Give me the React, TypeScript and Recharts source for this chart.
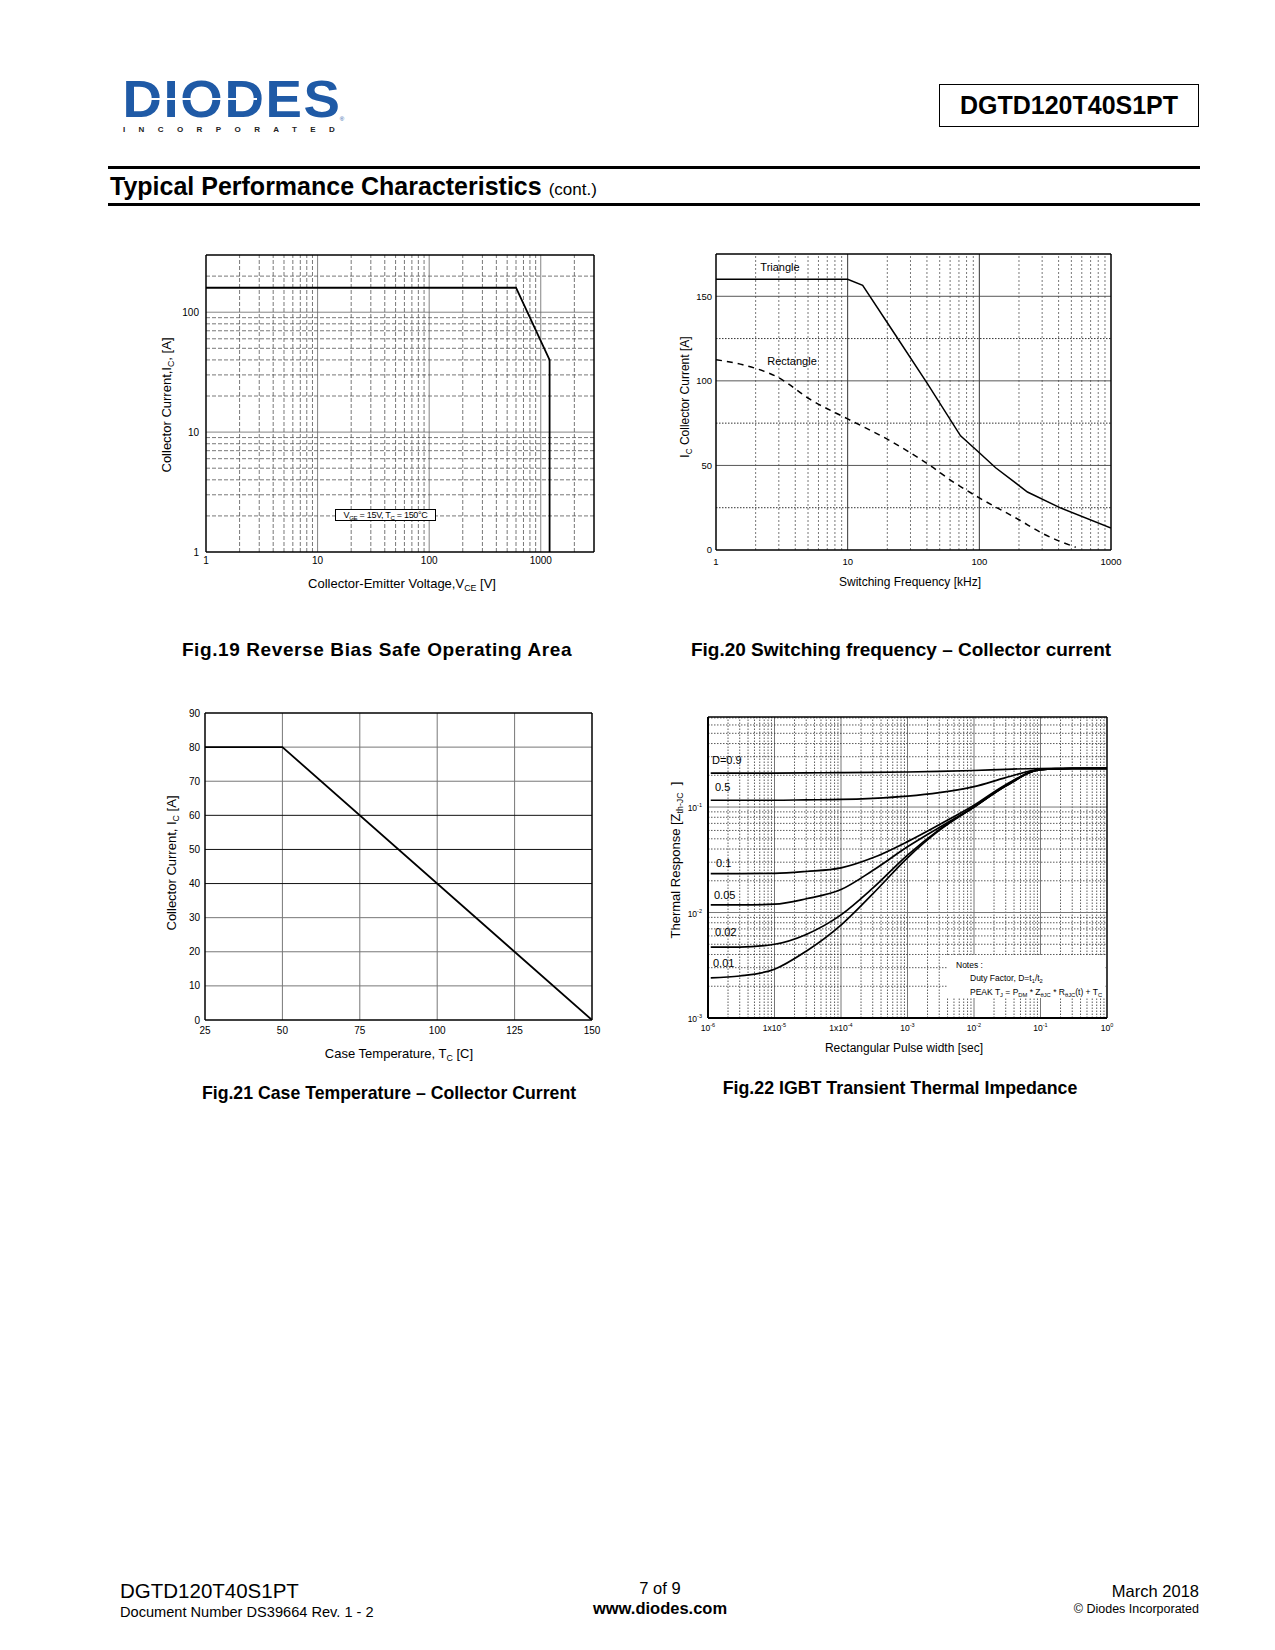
import React from 'react';
import { LineChart, Line, XAxis, YAxis, ReferenceLine } from 'recharts';

const FONT = "'Liberation Sans', Arial, Helvetica, sans-serif";

// ---------- Fig.19 Reverse Bias Safe Operating Area ----------
const soaVoltage = [1, 600, 1200, 1200];
const soaCurrent = [160, 160, 40, 1];
const soaXTicks = [1, 10, 100, 1000];
const soaYTicks = [1, 10, 100];

// ---------- Fig.20 Switching frequency - Collector current ----------
const triFreq = [1, 10, 13, 22.4, 40, 72, 100, 133, 232, 416, 1000];
const triCurrent = [160, 160, 156.5, 128.6, 98.8, 67.5, 57.5, 48.6, 34.3, 24.8, 13];
const rectFreq = [1, 1.6, 3, 5.2, 10, 20, 40, 64, 100, 200, 300, 540];
const rectCurrent = [112.5, 109.5, 101.8, 89, 77.5, 65.5, 51.2, 40, 30.8, 17.9, 9.9, 1.6];
const swXTicks = [1, 10, 100, 1000];
const swYTicks = [0, 50, 100, 150];
const swGridY = [25, 50, 75, 100, 125, 150];

// ---------- Fig.21 Case Temperature - Collector Current ----------
const caseTemp = [25, 50, 150];
const caseCurrent = [80, 80, 0];
const caseXTicks = [25, 50, 75, 100, 125, 150];
const caseYTicks = [0, 10, 20, 30, 40, 50, 60, 70, 80, 90];

// ---------- Fig.22 IGBT Transient Thermal Impedance ----------
const pulseWidth = [1.1e-6, 3e-6, 1e-5, 3e-5, 1e-4, 3e-4, 1e-3, 3e-3, 1e-2, 3e-2, 1e-1, 3e-1, 1];
const zthD09 = [0.21, 0.21, 0.21, 0.211, 0.212, 0.213, 0.215, 0.218, 0.222, 0.228, 0.232, 0.233, 0.233];
const zthD05 = [0.116, 0.116, 0.116, 0.117, 0.118, 0.121, 0.127, 0.137, 0.156, 0.19, 0.228, 0.233, 0.233];
const zthD01 = [0.0234, 0.0234, 0.0235, 0.0245, 0.0265, 0.033, 0.047, 0.068, 0.104, 0.163, 0.226, 0.232, 0.233];
const zthD005 = [0.0118, 0.0118, 0.012, 0.0135, 0.0165, 0.025, 0.042, 0.064, 0.1, 0.16, 0.226, 0.232, 0.233];
const zthD002 = [0.0047, 0.0047, 0.005, 0.0062, 0.0095, 0.017, 0.035, 0.061, 0.1, 0.158, 0.226, 0.232, 0.233];
const zthD001 = [0.0024, 0.0025, 0.0029, 0.0043, 0.0076, 0.015, 0.033, 0.06, 0.1, 0.158, 0.226, 0.232, 0.233];
const dutyLabels = ['D=0.9', '0.5', '0.1', '0.05', '0.02', '0.01'];
const pulseTicks = [1e-6, 1e-5, 1e-4, 1e-3, 1e-2, 1e-1, 1];
const pulseTickBase = ['10', '1x10', '1x10', '10', '10', '10', '10'];
const pulseTickExp = ['-6', '-5', '-4', '-3', '-2', '-1', '0'];
const zthTicks = [1e-3, 1e-2, 1e-1];
const zthTickExp = ['-3', '-2', '-1'];

// ---------- helpers ----------
const zip = (xs: number[], ys: number[]) => xs.map((x, i) => ({ x, y: ys[i] }));

function logGrid(lo: number, hi: number): number[] {
  const out: number[] = [];
  for (let e = Math.floor(Math.log10(lo)) - 1; e <= Math.ceil(Math.log10(hi)); e++) {
    for (let k = 1; k <= 9; k++) {
      const v = k * Math.pow(10, e);
      if (v > lo * 1.0001 && v < hi * 0.9999) out.push(v);
    }
  }
  return out;
}
const isDecade = (v: number) => Math.abs(Math.log10(v) - Math.round(Math.log10(v))) < 1e-6;

type Box = { l: number; t: number; r: number; b: number };
const PAD = { l: 50, t: 12, r: 16, b: 30 };

function Frame({ box, children }: { box: Box; children: React.ReactNode }) {
  return (
    <div style={{ position: 'absolute', left: box.l - PAD.l, top: box.t - PAD.t }}>
      <LineChart
        width={box.r - box.l + PAD.l + PAD.r}
        height={box.b - box.t + PAD.t + PAD.b}
        margin={{ top: PAD.t, right: PAD.r, left: 0, bottom: 0 }}
      >
        {children}
      </LineChart>
    </div>
  );
}

const tickStyle = (size: number) => ({ fontSize: size, fill: '#000', fontFamily: FONT });
const axisLine = { stroke: '#000', strokeWidth: 1.5 };

function Txt({ x, y, a = 'start', s = 13, w = 400, rot = false, c = '#000', children, style }: any) {
  const tx = a === 'middle' ? '-50%' : a === 'end' ? '-100%' : '0';
  const transform = rot ? 'translate(-50%,-50%) rotate(-90deg)' : `translate(${tx},-50%)`;
  return (
    <div
      style={{
        position: 'absolute', left: x, top: y, transform, fontSize: s, fontWeight: w,
        fontFamily: FONT, color: c, whiteSpace: 'nowrap', lineHeight: 1, ...style,
      }}
    >
      {children}
    </div>
  );
}
const Sub = ({ children }: any) => (
  <span style={{ fontSize: '0.68em', position: 'relative', top: '0.35em' }}>{children}</span>
);

// ---------- Fig.19 ----------
const B19: Box = { l: 206, t: 255, r: 594, b: 552 };
function Fig19() {
  const data = zip(soaVoltage, soaCurrent);
  return (
    <Frame box={B19}>
      <XAxis dataKey="x" type="number" scale="log" domain={[1, 3000]} ticks={soaXTicks} interval={0}
        allowDataOverflow height={PAD.b} tickLine={false} tickSize={3} tickMargin={2}
        axisLine={axisLine} tick={tickStyle(10)} />
      <YAxis type="number" scale="log" domain={[1, 300]} ticks={soaYTicks} interval={0}
        allowDataOverflow width={PAD.l} tickLine={false} tickSize={5} tickMargin={2}
        axisLine={axisLine} tick={tickStyle(10)} />
      {logGrid(1, 3000).map((v) => (
        <ReferenceLine key={'v' + v} x={v} stroke={isDecade(v) ? '#666' : '#555'}
          strokeDasharray={isDecade(v) ? undefined : '4 2'} strokeWidth={0.8} />
      ))}
      {logGrid(1, 300).map((v) => (
        <ReferenceLine key={'h' + v} y={v} stroke={isDecade(v) ? '#666' : '#555'}
          strokeDasharray={isDecade(v) ? undefined : '4 2'} strokeWidth={0.8} />
      ))}
      <ReferenceLine x={3000} stroke="#000" strokeWidth={1.5} />
      <ReferenceLine y={300} stroke="#000" strokeWidth={1.5} />
      <Line data={data} dataKey="y" type="linear" stroke="#000" strokeWidth={1.8} dot={false}
        isAnimationActive={false} />
    </Frame>
  );
}

// ---------- Fig.20 ----------
const B20: Box = { l: 716, t: 254, r: 1111, b: 550 };
function Fig20() {
  return (
    <Frame box={B20}>
      <XAxis dataKey="x" type="number" scale="log" domain={[1, 1000]} ticks={swXTicks} interval={0}
        allowDataOverflow height={PAD.b} tickLine={false} tickSize={6} tickMargin={2}
        axisLine={axisLine} tick={tickStyle(9.5)} />
      <YAxis type="number" domain={[0, 175]} ticks={swYTicks} interval={0}
        allowDataOverflow width={PAD.l} tickLine={false} tickSize={2} tickMargin={2}
        axisLine={axisLine} tick={tickStyle(9.5)} />
      {logGrid(1, 1000).map((v) => (
        <ReferenceLine key={'v' + v} x={v} stroke={isDecade(v) ? '#333' : '#555'}
          strokeDasharray={isDecade(v) ? undefined : '2 2'} strokeWidth={isDecade(v) ? 1 : 0.8} />
      ))}
      {swGridY.map((v) => (
        <ReferenceLine key={'h' + v} y={v} stroke={v % 50 === 0 ? '#444' : '#333'}
          strokeDasharray={v % 50 === 0 ? undefined : '1.5 1.5'} strokeWidth={v % 50 === 0 ? 0.9 : 1} />
      ))}
      <ReferenceLine x={1000} stroke="#000" strokeWidth={1.5} />
      <ReferenceLine y={175} stroke="#000" strokeWidth={1.5} />
      <Line data={zip(triFreq, triCurrent)} dataKey="y" type="linear" stroke="#000" strokeWidth={1.5}
        dot={false} isAnimationActive={false} />
      <Line data={zip(rectFreq, rectCurrent)} dataKey="y" type="monotone" stroke="#000" strokeWidth={1.5}
        strokeDasharray="6 5" dot={false} isAnimationActive={false} />
    </Frame>
  );
}

// ---------- Fig.21 ----------
const B21: Box = { l: 205, t: 713, r: 592, b: 1020 };
function Fig21() {
  return (
    <Frame box={B21}>
      <XAxis dataKey="x" type="number" domain={[25, 150]} ticks={caseXTicks} interval={0}
        allowDataOverflow height={PAD.b} tickLine={false} tickSize={5} tickMargin={2}
        axisLine={axisLine} tick={tickStyle(10)} />
      <YAxis type="number" domain={[0, 90]} ticks={caseYTicks} interval={0}
        allowDataOverflow width={PAD.l} tickLine={false} tickSize={3} tickMargin={2}
        axisLine={axisLine} tick={tickStyle(10)} />
      {caseXTicks.slice(1, -1).map((v) => (
        <ReferenceLine key={'v' + v} x={v} stroke="#777" strokeWidth={1} />
      ))}
      {caseYTicks.slice(1, -1).map((v) => (
        <ReferenceLine key={'h' + v} y={v} stroke={v >= 40 && v <= 60 ? '#111' : '#777'} strokeWidth={1} />
      ))}
      <ReferenceLine x={150} stroke="#000" strokeWidth={1.5} />
      <ReferenceLine y={90} stroke="#000" strokeWidth={1.5} />
      <Line data={zip(caseTemp, caseCurrent)} dataKey="y" type="linear" stroke="#000" strokeWidth={1.8}
        dot={false} isAnimationActive={false} />
    </Frame>
  );
}

// ---------- Fig.22 ----------
const B22: Box = { l: 708, t: 717, r: 1107, b: 1018 };
const findIdx = (arr: number[], v: number) => arr.findIndex((a) => Math.abs(Math.log10(a) - Math.log10(v)) < 1e-6);

function PulseTick(props: any) {
  const { x, y, payload } = props;
  const i = findIdx(pulseTicks, payload.value);
  if (i < 0) return null;
  return (
    <text x={x} y={y + 8} textAnchor="middle" fontSize={8.5} fontFamily={FONT} fill="#000">
      {pulseTickBase[i]}
      <tspan dy={-4} fontSize={5.5}>{pulseTickExp[i]}</tspan>
    </text>
  );
}
function ZthTick(props: any) {
  const { x, y, payload } = props;
  const i = findIdx(zthTicks, payload.value);
  if (i < 0) return null;
  return (
    <text x={x} y={y + 4} textAnchor="end" fontSize={8.5} fontFamily={FONT} fill="#000">
      10
      <tspan dy={-4} fontSize={5.5}>{zthTickExp[i]}</tspan>
    </text>
  );
}

function Fig22() {
  const series = [zthD09, zthD05, zthD01, zthD005, zthD002, zthD001];
  return (
    <Frame box={B22}>
      <XAxis dataKey="x" type="number" scale="log" domain={[1e-6, 1]} ticks={pulseTicks} interval={0}
        allowDataOverflow height={PAD.b} tickLine={false} tickSize={3} tickMargin={2}
        axisLine={{ stroke: '#000', strokeWidth: 2 }} tick={<PulseTick />} />
      <YAxis type="number" scale="log" domain={[1e-3, 0.714]} ticks={zthTicks} interval={0}
        allowDataOverflow width={PAD.l} tickLine={false} tickSize={4} tickMargin={2}
        axisLine={{ stroke: '#000', strokeWidth: 2 }} tick={<ZthTick />} />
      {logGrid(1e-6, 1).map((v) => (
        <ReferenceLine key={'v' + v} x={v} stroke={isDecade(v) ? '#777' : '#333'}
          strokeDasharray={isDecade(v) ? undefined : '1.5 1.5'} strokeWidth={isDecade(v) ? 1 : 0.8} />
      ))}
      {logGrid(1e-3, 0.714).map((v) => (
        <ReferenceLine key={'h' + v} y={v} stroke={isDecade(v) ? '#777' : '#333'}
          strokeDasharray={isDecade(v) ? undefined : '1.5 1.5'} strokeWidth={isDecade(v) ? 1 : 0.8} />
      ))}
      <ReferenceLine x={1} stroke="#000" strokeWidth={1.5} />
      <ReferenceLine y={0.714} stroke="#000" strokeWidth={1.5} />
      {series.map((z, i) => (
        <Line key={dutyLabels[i]} data={zip(pulseWidth, z)} dataKey="y" type="monotone" stroke="#000"
          strokeWidth={1.7} dot={false} isAnimationActive={false} />
      ))}
    </Frame>
  );
}

// ---------- page ----------
export default function App() {
  return (
    <div style={{ position: 'absolute', left: 0, top: 0, width: 1275, height: 1650, background: '#fff', fontFamily: FONT, overflow: 'hidden' }}>
      {/* Logo */}
      <Txt x={232} y={99} a="middle" s={52} w={900} c="#1f5aa6" style={{ letterSpacing: 1.5, transform: 'translate(-50%,-50%) scaleX(1.05)' }}>DIODES</Txt>
      <div style={{ position: 'absolute', left: 135, top: 98, width: 122, height: 2, background: '#fff' }} />
      <Txt x={342} y={119} a="middle" s={6} c="#1f5aa6">®</Txt>
      <Txt x={123} y={130} s={8} w={700} c="#222" style={{ letterSpacing: 13.4 }}>INCORPORATED</Txt>

      {/* Part number box */}
      <div style={{ position: 'absolute', left: 939, top: 84, width: 260, height: 43, border: '1.5px solid #000', boxSizing: 'border-box', display: 'flex', alignItems: 'center', justifyContent: 'center', fontSize: 25, fontWeight: 700, fontFamily: FONT }}>
        DGTD120T40S1PT
      </div>

      {/* Section title */}
      <div style={{ position: 'absolute', left: 108, top: 166, width: 1092, height: 3, background: '#000' }} />
      <Txt x={110} y={186} s={25} w={700}>
        Typical Performance Characteristics <span style={{ fontSize: 17, fontWeight: 400 }}>(cont.)</span>
      </Txt>
      <div style={{ position: 'absolute', left: 108, top: 203, width: 1092, height: 3, background: '#000' }} />

      {/* Charts */}
      <Fig19 />
      <Fig20 />
      <Fig21 />
      <Fig22 />

      {/* Fig.19 texts */}
      <Txt x={166} y={405} rot s={13}>Collector Current,I<Sub>C</Sub>, [A]</Txt>
      <Txt x={402} y={583} a="middle" s={13}>Collector-Emitter Voltage,V<Sub>CE</Sub> [V]</Txt>
      <div style={{ position: 'absolute', left: 335, top: 509, width: 101, height: 12, border: '1px solid #000', boxSizing: 'border-box', background: '#fff', fontSize: 9, lineHeight: '10px', textAlign: 'center', whiteSpace: 'nowrap', fontFamily: FONT, letterSpacing: -0.3 }}>
        V<Sub>GE</Sub> = 15V, T<Sub>C</Sub> = 150°C
      </div>
      <Txt x={377} y={649} a="middle" s={19} w={700} style={{ letterSpacing: 0.6 }}>Fig.19 Reverse Bias Safe Operating Area</Txt>

      {/* Fig.20 texts */}
      <Txt x={685} y={397} rot s={12}>I<Sub>C</Sub> Collector Current [A]</Txt>
      <Txt x={910} y={582} a="middle" s={12}>Switching Frequency [kHz]</Txt>
      <Txt x={780} y={267} a="middle" s={11}>Triangle</Txt>
      <Txt x={792} y={361} a="middle" s={11}>Rectangle</Txt>
      <Txt x={901} y={649} a="middle" s={19} w={700}>Fig.20 Switching frequency – Collector current</Txt>

      {/* Fig.21 texts */}
      <Txt x={171} y={863} rot s={13}>Collector Current, I<Sub>C</Sub> [A]</Txt>
      <Txt x={399} y={1053} a="middle" s={13}>Case Temperature, T<Sub>C</Sub> [C]</Txt>
      <Txt x={389} y={1094} a="middle" s={17.7} w={700}>Fig.21 Case Temperature – Collector Current</Txt>

      {/* Fig.22 texts */}
      <Txt x={675} y={860} rot s={13}>Thermal Response [Z<Sub>th-JC</Sub>&nbsp;&nbsp;]</Txt>
      <Txt x={904} y={1048} a="middle" s={12}>Rectangular Pulse width [sec]</Txt>
      <Txt x={712} y={760} s={11}>{dutyLabels[0]}</Txt>
      <Txt x={715} y={787} s={11}>{dutyLabels[1]}</Txt>
      <Txt x={716} y={863} s={11}>{dutyLabels[2]}</Txt>
      <Txt x={714} y={895} s={11}>{dutyLabels[3]}</Txt>
      <Txt x={715} y={932} s={11}>{dutyLabels[4]}</Txt>
      <Txt x={713} y={963} s={11}>{dutyLabels[5]}</Txt>
      <div style={{ position: 'absolute', left: 947, top: 955, width: 158, height: 43, background: '#fff' }} />
      <Txt x={956} y={965} s={8.5}>Notes :</Txt>
      <Txt x={970} y={978} s={8.5}>Duty Factor, D=t<Sub>1</Sub>/t<Sub>2</Sub></Txt>
      <Txt x={970} y={992} s={8.5}>PEAK T<Sub>J</Sub> = P<Sub>DM</Sub> * Z<Sub>θJC</Sub> * R<Sub>θJC</Sub>(t) + T<Sub>C</Sub></Txt>
      <Txt x={900} y={1089} a="middle" s={17.8} w={700}>Fig.22 IGBT Transient Thermal Impedance</Txt>

      {/* Footer */}
      <Txt x={120} y={1591} s={20.5}>DGTD120T40S1PT</Txt>
      <Txt x={120} y={1612} s={14.6}>Document Number DS39664 Rev. 1 - 2</Txt>
      <Txt x={660} y={1588} a="middle" s={16.5}>7 of 9</Txt>
      <Txt x={660} y={1608} a="middle" s={16.5} w={700}>www.diodes.com</Txt>
      <Txt x={1199} y={1591} a="end" s={16.5}>March 2018</Txt>
      <Txt x={1199} y={1609} a="end" s={12.5}>© Diodes Incorporated</Txt>
    </div>
  );
}
